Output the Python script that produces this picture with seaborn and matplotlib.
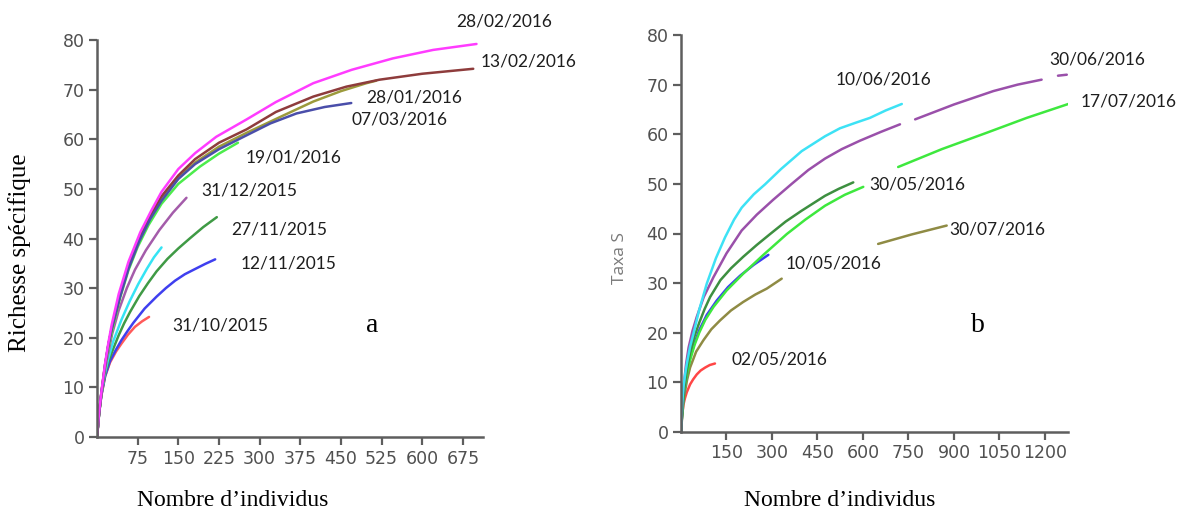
import numpy as np
import pandas as pd
import matplotlib
matplotlib.use("Agg")
import matplotlib.pyplot as plt
import seaborn as sns

nan = np.nan

# ---------------- Panel a: rarefaction curves, Oct 2015 - Mar 2016 ----------------
a_3110_n = [0, 4, 8, 15, 24, 35, 45, 57, 70, 83, 96]
a_3110_s = [0, 4.8, 8.3, 12.2, 15.0, 17.2, 18.8, 20.6, 22.2, 23.3, 24.2]

a_1211_n = [0, 4, 8, 15, 24, 35, 45, 56, 67, 88, 110, 127, 144, 162, 180, 200, 218]
a_1211_s = [0, 4.8, 8.4, 12.3, 15.3, 17.6, 19.5, 21.3, 23.0, 25.9, 28.3, 30.0, 31.5, 32.8, 33.8, 34.9, 35.8]

a_2711_n = [0, 4, 8, 15, 22, 30, 40, 50, 61, 78, 94, 110, 130, 150, 171, 196, 221]
a_2711_s = [0, 4.9, 8.5, 12.8, 15.5, 17.8, 20.5, 22.9, 25.2, 28.4, 31.0, 33.4, 35.9, 38.0, 40.0, 42.3, 44.3]

a_cyan_n = [0, 4, 8, 14, 20, 30, 45, 60, 76, 92, 105, 119]
a_cyan_s = [0, 5.0, 8.6, 12.6, 15.5, 19.3, 23.6, 27.3, 30.8, 33.9, 36.2, 38.2]

a_3112_n = [0, 4, 8, 13, 18, 28, 40, 55, 70, 90, 115, 140, 165]
a_3112_s = [0, 5.0, 8.6, 12.4, 15.5, 20.8, 25.5, 30.0, 33.7, 37.6, 41.7, 45.2, 48.2]

a_1901_n = [0, 4, 8, 16, 22, 30, 43, 58, 75, 95, 119, 150, 190, 225, 260]
a_1901_s = [0, 5.0, 8.6, 14.8, 18.4, 22.4, 28.2, 33.6, 38.3, 42.7, 47.0, 51.0, 54.5, 57.1, 59.3]

a_0703_n = [0, 4, 8, 15, 21, 27, 42, 58, 78, 98, 119, 150, 181, 225, 276, 320, 368, 420, 469]
a_0703_s = [0, 5.0, 8.8, 14.6, 18.6, 21.8, 28.1, 33.9, 39.5, 43.9, 47.6, 52.0, 55.0, 58.0, 60.8, 63.2, 65.2, 66.5, 67.3]

a_2801_n = [0, 4, 8, 15, 21, 27, 42, 58, 78, 98, 119, 150, 181, 225, 276, 340, 399, 450, 497, 515]
a_2801_s = [0, 5.0, 8.8, 14.6, 18.6, 21.8, 28.2, 34.1, 39.7, 44.2, 48.1, 52.2, 55.3, 58.5, 61.3, 64.6, 67.6, 69.7, 71.3, 71.8]

a_1302_n = [0, 4, 8, 15, 21, 27, 42, 58, 78, 98, 119, 150, 181, 225, 276, 330, 399, 460, 521, 600, 694]
a_1302_s = [0, 5.0, 8.8, 14.6, 18.6, 21.8, 28.4, 34.4, 40.1, 44.6, 48.5, 52.7, 56.0, 59.3, 62.0, 65.5, 68.6, 70.6, 72.0, 73.2, 74.2]

a_2802_n = [0, 4, 8, 15, 21, 27, 40, 58, 80, 100, 119, 150, 181, 220, 276, 330, 399, 470, 546, 620, 700]
a_2802_s = [0, 5.2, 9.0, 14.9, 19.0, 22.6, 28.8, 35.3, 41.3, 45.6, 49.4, 54.0, 57.2, 60.5, 64.0, 67.5, 71.3, 74.0, 76.3, 78.0, 79.2]

a_ticks_x = [75, 150, 225, 300, 375, 450, 525, 600, 675]
a_ticks_y = [0, 10, 20, 30, 40, 50, 60, 70, 80]

# ---------------- Panel b: rarefaction curves, May - Jul 2016 ----------------
b_0205_n = [0, 3, 8, 13, 19, 30, 40, 52, 65, 80, 95, 112]
b_0205_s = [0, 3.0, 5.5, 6.8, 8.0, 9.6, 10.6, 11.6, 12.4, 13.0, 13.5, 13.8]

b_1005_n = [0, 5, 10, 20, 30, 45, 60, 85, 118, 155, 195, 240, 288]
b_1005_s = [0, 5.0, 8.0, 12.0, 15.0, 18.0, 20.5, 23.6, 26.5, 29.2, 31.5, 33.7, 35.7]

b_3007_n = [0, 5, 10, 20, 30, 50, 74, 100, 129, 165, 205, 245, 283, 332, nan, 650, 760, 876]
b_3007_s = [0, 4.0, 7.0, 10.5, 13.0, 16.2, 18.5, 20.7, 22.5, 24.5, 26.2, 27.7, 28.9, 30.9, nan, 37.9, 39.8, 41.6]

b_1707_n = [0, 5, 10, 20, 30, 45, 60, 80, 107, 150, 205, 270, 349, 410, 475, 540, 601,
            nan, 716, 860, 1008, 1140, 1277]
b_1707_s = [0, 4.8, 8.0, 11.8, 14.5, 17.6, 20.0, 22.6, 25.2, 28.5, 31.9, 35.6, 39.9, 42.8, 45.6, 47.8, 49.4,
            nan, 53.4, 57.0, 60.3, 63.3, 66.1]

b_3005_n = [0, 5, 10, 20, 30, 45, 60, 78, 96, 130, 165, 205, 250, 294, 345, 398, 475, 520, 568]
b_3005_s = [0, 5.0, 8.5, 12.8, 16.0, 19.4, 22.0, 24.8, 27.2, 30.6, 33.0, 35.3, 37.7, 39.9, 42.4, 44.6, 47.6, 49.0, 50.3]

b_3006_n = [0, 4, 10, 17, 25, 38, 52, 75, 107, 150, 200, 250, 304, 365, 420, 475, 530, 590, 660, 722,
            nan, 772, 900, 1030, 1110, 1189, nan, 1243, 1272]
b_3006_s = [0, 6.0, 10.0, 13.8, 17.0, 20.4, 23.2, 27.2, 31.2, 36.0, 40.6, 43.8, 46.8, 50.0, 52.8, 55.1, 57.0, 58.7, 60.5, 62.0,
            nan, 63.0, 66.0, 68.7, 70.0, 71.0, nan, 71.8, 72.0]

b_1006_n = [0, 4, 8, 14, 20, 30, 41, 60, 85, 115, 145, 175, 200, 240, 277, 330, 398, 475, 524, 575, 623, 675, 728]
b_1006_s = [0, 6.0, 9.0, 11.8, 14.0, 17.2, 19.8, 24.6, 29.9, 35.0, 39.2, 42.8, 45.2, 47.9, 49.9, 53.0, 56.6, 59.6, 61.2, 62.3, 63.3, 64.8, 66.1]

b_ticks_x = [150, 300, 450, 600, 750, 900, 1050, 1200]
b_ticks_y = [0, 10, 20, 30, 40, 50, 60, 70, 80]

# ---------------- styling ----------------
a_series = [
    ("31/10/2015", a_3110_n, a_3110_s, "#ff5a5a"),
    ("12/11/2015", a_1211_n, a_1211_s, "#3f3fef"),
    ("27/11/2015", a_2711_n, a_2711_s, "#3f9a45"),
    ("cyan", a_cyan_n, a_cyan_s, "#35e4f4"),
    ("31/12/2015", a_3112_n, a_3112_s, "#a45caa"),
    ("19/01/2016", a_1901_n, a_1901_s, "#4cec4c"),
    ("28/01/2016", a_2801_n, a_2801_s, "#9c9a3c"),
    ("13/02/2016", a_1302_n, a_1302_s, "#8e3c3c"),
    ("07/03/2016", a_0703_n, a_0703_s, "#4a4eaa"),
    ("28/02/2016", a_2802_n, a_2802_s, "#ff3cff"),
]

b_series = [
    ("02/05/2016", b_0205_n, b_0205_s, "#ff4646"),
    ("30/07/2016", b_3007_n, b_3007_s, "#8f8b44"),
    ("10/05/2016", b_1005_n, b_1005_s, "#3b3bf2"),
    ("17/07/2016", b_1707_n, b_1707_s, "#3ee83e"),
    ("30/05/2016", b_3005_n, b_3005_s, "#3d8f40"),
    ("30/06/2016", b_3006_n, b_3006_s, "#9a50aa"),
    ("10/06/2016", b_1006_n, b_1006_s, "#3de2f5"),
]

# date labels placed at the end of each curve (data coordinates)
a_label_pos = {
    "28/02/2016": (663, 83.7), "13/02/2016": (708, 75.6), "28/01/2016": (496, 68.5),
    "07/03/2016": (470, 63.9), "19/01/2016": (275, 56.3), "31/12/2015": (192, 49.6),
    "27/11/2015": (247, 41.9), "12/11/2015": (265, 34.9), "31/10/2015": (138, 22.4),
}
b_label_pos = {
    "10/06/2016": (511, 71.1), "30/06/2016": (1213, 75.1), "17/07/2016": (1319, 66.5),
    "30/05/2016": (620, 49.8), "30/07/2016": (884, 40.8), "10/05/2016": (346, 33.9),
    "02/05/2016": (165, 14.7),
}


def to_frame(series):
    rows = []
    seg = 0
    for name, xs, ys, _ in series:
        seg += 1
        for x, y in zip(xs, ys):
            if np.isnan(y):
                seg += 1
                continue
            rows.append((name, seg, x, y))
    return pd.DataFrame(rows, columns=["serie", "seg", "n", "S"])


sns.set_theme(style="ticks")
plt.rcParams["font.family"] = ["Liberation Sans Narrow", "DejaVu Sans"]

fig = plt.figure(figsize=(11.86, 5.12), dpi=100)
W, H = 1186, 512
ax_a = fig.add_axes([97 / W, 1 - 437 / H, 386 / W, 397 / H])
ax_b = fig.add_axes([681 / W, 1 - 432 / H, 387 / W, 397 / H])

spine_col = "#5e5e5e"
label_font = ["Lato", "DejaVu Sans"]

for ax, series, labels, xmax, xt, yt in (
    (ax_a, a_series, a_label_pos, 712, a_ticks_x, a_ticks_y),
    (ax_b, b_series, b_label_pos, 1276, b_ticks_x, b_ticks_y),
):
    df = to_frame(series)
    pal = {name: c for name, _, _, c in series}
    sns.lineplot(data=df, x="n", y="S", hue="serie", units="seg", estimator=None,
                 sort=False, palette=pal, linewidth=1.8, legend=False, ax=ax)
    ax.set_xlim(0, xmax)
    ax.set_ylim(0, 80)
    ax.set_xticks(xt)
    ax.set_yticks(yt)
    ax.set_xlabel("")
    ax.set_ylabel("")
    sns.despine(ax=ax)
    for side in ("left", "bottom"):
        ax.spines[side].set_color(spine_col)
        ax.spines[side].set_linewidth(1.8)
    ax.tick_params(direction="out", length=6, width=1.6, color=spine_col,
                   labelcolor="#505050", labelsize=12.5, pad=3)
    ax.patch.set_alpha(0)
    for txt, (x, y) in labels.items():
        ax.text(x, y, txt, fontsize=12.5, family=label_font, color="#1e1e1e",
                ha="left", va="center", clip_on=False)

serif = ["Liberation Serif", "DejaVu Serif"]
fig.text(20 / W, 1 - 253 / H, "Richesse spécifique", rotation=90, ha="center",
         va="center", fontsize=18, family=serif, color="black")
fig.text(233 / W, 1 - 500 / H, "Nombre d’individus", ha="center", va="center",
         fontsize=17, family=serif, color="black")
fig.text(840 / W, 1 - 500 / H, "Nombre d’individus", ha="center", va="center",
         fontsize=17, family=serif, color="black")
fig.text(620 / W, 1 - 258 / H, "Taxa S", rotation=90, ha="center", va="center",
         fontsize=12.5, family=["Open Sans", "DejaVu Sans"], color="#7a7a7a")
fig.text(372 / W, 1 - 326 / H, "a", ha="center", va="center", fontsize=20,
         family=serif, color="black")
fig.text(978 / W, 1 - 326 / H, "b", ha="center", va="center", fontsize=20,
         family=serif, color="black")

fig.savefig("out.png", dpi=100, facecolor="white")
